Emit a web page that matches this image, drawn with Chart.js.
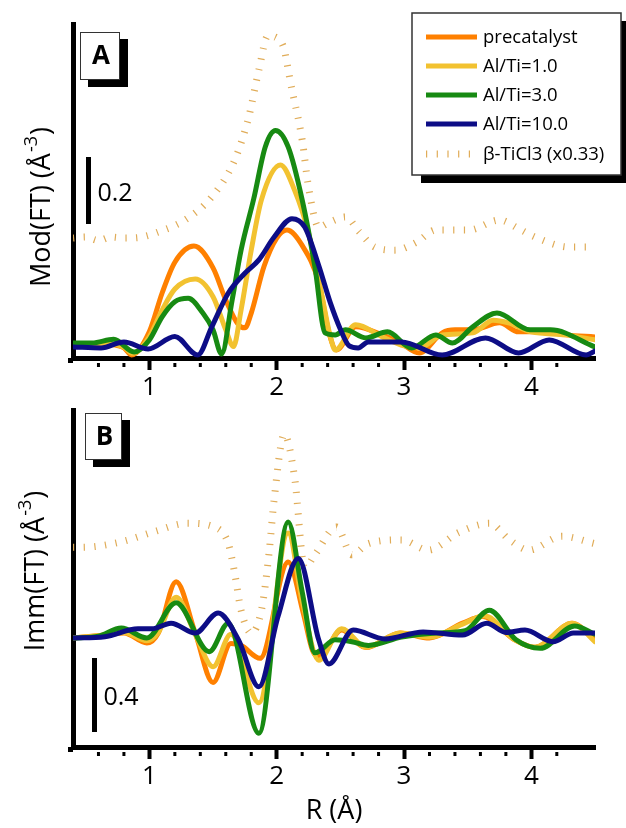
<!DOCTYPE html>
<html>
<head>
<meta charset="utf-8">
<script src="https://cdn.jsdelivr.net/npm/chart.js@4.4.0/dist/chart.umd.min.js"></script>
<style>
  html, body { margin: 0; padding: 0; background: #fff; }
  #wrap { position: relative; width: 626px; height: 828px; }
  canvas { position: absolute; left: 0; }
  #cA { top: 0; }
  #cB { top: 400px; }
</style>
</head>
<body>
<div id="wrap">
  <canvas id="cA" width="626" height="400"></canvas>
  <canvas id="cB" width="626" height="428"></canvas>
</div>
<script>
// series names / colours
const seriesNames = ["precatalyst", "Al/Ti=1.0", "Al/Ti=3.0", "Al/Ti=10.0", "β-TiCl3 (x0.33)"];
const seriesColors = ["#ff8000", "#f2c230", "#178a12", "#0d0d86", "#e0ac58"];

// panel A : Mod(FT), [R, value]
const modPre = [[0.40,0.036],[0.55,0.036],[0.70,0.034],[0.80,0.024],[0.86,0.003],[1.00,0.073],[1.10,0.188],[1.20,0.28],[1.35,0.328],[1.50,0.263],[1.60,0.167],[1.70,0.093],[1.75,0.084],[1.80,0.128],[1.90,0.267],[2.00,0.352],[2.08,0.376],[2.20,0.33],[2.33,0.22],[2.41,0.07],[2.47,0.018],[2.62,0.087],[2.83,0.063],[2.96,0.042],[3.12,0.009],[3.30,0.069],[3.40,0.078],[3.54,0.078],[3.75,0.099],[3.90,0.072],[4.11,0.072],[4.27,0.063],[4.50,0.057]];
const modAl1 = [[0.40,0.036],[0.55,0.036],[0.70,0.036],[0.80,0.026],[0.87,0.008],[1.00,0.058],[1.10,0.137],[1.20,0.2],[1.36,0.23],[1.50,0.177],[1.60,0.078],[1.66,0.028],[1.72,0.137],[1.80,0.316],[1.88,0.466],[2.03,0.57],[2.14,0.495],[2.25,0.367],[2.35,0.19],[2.42,0.06],[2.46,0.018],[2.62,0.093],[2.83,0.057],[3.00,0.03],[3.12,0.024],[3.30,0.063],[3.54,0.069],[3.70,0.107],[3.82,0.099],[4.00,0.072],[4.27,0.063],[4.50,0.048]];
const modAl3 = [[0.40,0.039],[0.55,0.039],[0.72,0.05],[0.88,0.012],[1.00,0.048],[1.10,0.117],[1.20,0.162],[1.305,0.172],[1.42,0.128],[1.50,0.078],[1.567,0.006],[1.65,0.167],[1.72,0.316],[1.82,0.47],[1.91,0.624],[1.99,0.673],[2.09,0.624],[2.20,0.466],[2.30,0.266],[2.38,0.069],[2.46,0.063],[2.54,0.078],[2.70,0.054],[2.87,0.072],[3.06,0.024],[3.25,0.063],[3.38,0.039],[3.54,0.087],[3.73,0.128],[3.99,0.078],[4.15,0.078],[4.50,0.027]];
const modAl10 = [[0.40,0.027],[0.62,0.024],[0.80,0.042],[0.99,0.021],[1.20,0.058],[1.38,0.003],[1.49,0.087],[1.62,0.188],[1.75,0.247],[1.86,0.287],[1.98,0.355],[2.12,0.41],[2.22,0.385],[2.33,0.27],[2.42,0.16],[2.50,0.08],[2.57,0.03],[2.64,0.024],[2.72,0.042],[2.98,0.042],[3.30,0.003],[3.64,0.054],[3.90,0.009],[4.14,0.048],[4.43,0.003],[4.50,0.015]];
const modTi = [[0.40,0.352],[0.50,0.355],[0.60,0.345],[0.70,0.355],[0.80,0.352],[0.94,0.355],[1.07,0.37],[1.28,0.406],[1.49,0.475],[1.67,0.585],[1.78,0.713],[1.86,0.854],[1.93,0.955],[2.04,0.934],[2.12,0.794],[2.20,0.645],[2.25,0.504],[2.33,0.385],[2.42,0.40],[2.54,0.415],[2.65,0.37],[2.77,0.325],[2.93,0.316],[3.10,0.34],[3.25,0.376],[3.51,0.376],[3.75,0.406],[3.90,0.38],[4.03,0.355],[4.30,0.325],[4.50,0.325]];

// panel B : Imm(FT), [R, value]
const immPre = [[0.40,0],[0.65,0.016],[0.80,0.027],[0.98,-0.027],[1.07,0.027],[1.21,0.304],[1.36,0.027],[1.50,-0.24],[1.64,-0.03],[1.72,-0.04],[1.87,-0.11],[2.09,0.41],[2.21,0.13],[2.28,-0.065],[2.33,-0.1],[2.51,0.043],[2.70,-0.052],[2.97,0.027],[3.20,0.0],[3.46,0.08],[3.62,0.116],[3.87,-0.01],[4.03,-0.05],[4.32,0.08],[4.50,-0.01]];
const immAl1 = [[0.40,0],[0.65,0.016],[0.80,0.03],[0.98,-0.015],[1.07,0.03],[1.21,0.22],[1.36,0.02],[1.50,-0.155],[1.64,0.02],[1.86,-0.35],[2.09,0.567],[2.20,0.2],[2.33,-0.12],[2.51,0.05],[2.70,-0.05],[2.97,0.027],[3.20,0.005],[3.46,0.075],[3.63,0.12],[3.87,-0.01],[4.03,-0.05],[4.32,0.08],[4.50,-0.02]];
const immAl3 = [[0.40,0],[0.60,0.01],[0.78,0.054],[0.98,0.0],[1.21,0.19],[1.47,-0.074],[1.62,0.08],[1.86,-0.515],[2.09,0.627],[2.20,0.25],[2.30,-0.08],[2.46,-0.01],[2.59,-0.02],[2.72,-0.04],[2.98,0.005],[3.25,0.027],[3.48,0.04],[3.67,0.15],[3.88,-0.01],[4.07,-0.056],[4.34,0.065],[4.50,0.02]];
const immAl10 = [[0.40,0],[0.65,0.007],[0.91,0.05],[1.02,0.05],[1.17,0.08],[1.36,0.027],[1.54,0.135],[1.70,-0.01],[1.86,-0.264],[2.01,0.116],[2.17,0.43],[2.33,-0.01],[2.41,-0.14],[2.60,0.043],[2.85,-0.005],[3.15,0.033],[3.46,0.016],[3.65,0.08],[3.80,0.03],[3.95,0.043],[4.17,-0.02],[4.33,0.027],[4.50,0.027]];
const immTi = [[0.40,0.49],[0.47,0.49],[0.78,0.52],[1.04,0.575],[1.30,0.62],[1.51,0.60],[1.62,0.51],[1.67,0.35],[1.72,0.15],[1.80,0.027],[1.88,0.15],[1.94,0.46],[1.98,0.75],[2.06,1.10],[2.14,0.87],[2.22,0.38],[2.30,0.45],[2.47,0.60],[2.59,0.45],[2.72,0.51],[2.98,0.53],[3.19,0.475],[3.43,0.57],[3.67,0.62],[3.83,0.53],[3.98,0.475],[4.24,0.55],[4.50,0.51]];

// axis ranges and scale bars (data units)
const xRange = [0.4, 4.5];
const yRangeA = [-0.006, 0.991];
const yRangeB = [-0.589, 1.232];
const barA = { from: 0.394, size: 0.2 };
const barB = { from: -0.508, size: 0.4 };

const FONT = "'Open Sans', sans-serif";
const isInt = v => Math.abs(v - Math.round(v)) < 1e-6;

function makeDatasets(series) {
    return series.map((pts, i) => ({
        label: seriesNames[i],
        data: pts.map(p => ({ x: p[0], y: p[1] })),
        borderColor: seriesColors[i],
        borderWidth: i === 4 ? 7 : 5,
        borderDash: i === 4 ? [1.2, 9.5] : [],
        borderCapStyle: i === 4 ? "butt" : "round",
        borderJoinStyle: "round",
        pointRadius: 0,
        cubicInterpolationMode: "monotone",
        order: [4, 3, 2, 1, 5][i],
        fill: false
    }));
}

// extra drawing: corner, minor ticks, scale bar, y title, panel label, legend
const decor = {
    id: "decor",
    afterDraw(chart, args, o) {
        const { ctx, chartArea: ca, scales: { x, y } } = chart;
        ctx.save();
        ctx.fillStyle = "#000";
        ctx.fillRect(ca.left - 5, ca.bottom, 5, 5);

        // minor ticks
        ctx.strokeStyle = "#000";
        ctx.lineWidth = 3;
        x.ticks.forEach(t => {
            const v = t.value;
            if (isInt(v) || v < 0.5 || v > 4.45) return;
            const px = x.getPixelForValue(v);
            ctx.beginPath();
            ctx.moveTo(px, ca.bottom + 5);
            ctx.lineTo(px, ca.bottom + 9);
            ctx.stroke();
        });

        // scale bar
        const y1 = y.getPixelForValue(o.bar.from);
        const y2 = y.getPixelForValue(o.bar.from + o.bar.size);
        ctx.lineWidth = 5;
        ctx.beginPath();
        ctx.moveTo(o.barX, y1);
        ctx.lineTo(o.barX, y2);
        ctx.stroke();
        ctx.font = `25px ${FONT}`;
        ctx.textAlign = "left";
        ctx.textBaseline = "middle";
        ctx.fillText(String(o.bar.size), o.barX + 9, (y1 + y2) / 2 + 3);

        // y title with superscript
        ctx.save();
        ctx.translate(o.titleX, o.titleY);
        ctx.rotate(-Math.PI / 2);
        ctx.textBaseline = "alphabetic";
        const main = o.title + " (Å";
        ctx.font = `27px ${FONT}`;
        const w1 = ctx.measureText(main).width;
        ctx.font = `18px ${FONT}`;
        const w2 = ctx.measureText("-3").width;
        ctx.font = `27px ${FONT}`;
        const w3 = ctx.measureText(")").width;
        let sx = -(w1 + w2 + w3 + 2) / 2;
        ctx.fillText(main, sx, 0);
        ctx.font = `18px ${FONT}`;
        ctx.fillText("-3", sx + w1 + 1, -13);
        ctx.font = `27px ${FONT}`;
        ctx.fillText(")", sx + w1 + w2 + 2, 0);
        ctx.restore();

        // panel label box
        const b = o.box;
        ctx.fillStyle = "#000";
        ctx.fillRect(b.x + 8, b.y + 7, b.w, b.h);
        ctx.fillStyle = "#fff";
        ctx.fillRect(b.x, b.y, b.w, b.h);
        ctx.strokeStyle = "#333";
        ctx.lineWidth = 1;
        ctx.strokeRect(b.x + 0.5, b.y + 0.5, b.w - 1, b.h - 1);
        ctx.fillStyle = "#000";
        ctx.font = `bold 26px ${FONT}`;
        ctx.textAlign = "center";
        ctx.textBaseline = "middle";
        ctx.fillText(o.letter, b.x + b.w / 2 + 1, b.y + b.h / 2 + 1);

        // legend (panel A only)
        if (o.legend) {
            const L = o.legend;
            ctx.fillStyle = "#000";
            ctx.fillRect(L.x + 9, L.y + 8, L.w, L.h);
            ctx.fillStyle = "#fff";
            ctx.fillRect(L.x, L.y, L.w, L.h);
            ctx.strokeStyle = "#333";
            ctx.lineWidth = 1.5;
            ctx.strokeRect(L.x, L.y, L.w, L.h);
            ctx.font = `18.5px ${FONT}`;
            ctx.textAlign = "left";
            ctx.textBaseline = "middle";
            chart.data.datasets.forEach((ds, i) => {
                const ry = L.rowY[i];
                ctx.strokeStyle = ds.borderColor;
                ctx.lineWidth = ds.borderWidth;
                ctx.setLineDash(ds.borderDash);
                ctx.lineCap = "butt";
                ctx.beginPath();
                ctx.moveTo(L.x + 14, ry);
                ctx.lineTo(L.x + 65, ry);
                ctx.stroke();
                ctx.setLineDash([]);
                ctx.fillStyle = "#000";
                ctx.fillText(ds.label, L.x + 71, ry + 1);
            });
        }
        ctx.restore();
    }
};

function makeChart(id, series, yRange, xHeight, padTop, showTitle, deco) {
    return new Chart(document.getElementById(id), {
        type: "line",
        data: { datasets: makeDatasets(series) },
        options: {
            responsive: false,
            animation: false,
            devicePixelRatio: 1,
            events: [],
            layout: { padding: { top: padTop, left: 73, right: 31, bottom: 0 } },
            plugins: { legend: { display: false }, tooltip: { enabled: false }, decor: deco },
            scales: {
                x: {
                    type: "linear",
                    min: xRange[0],
                    max: xRange[1],
                    border: { display: true, color: "#000", width: 5 },
                    grid: {
                        display: true,
                        drawOnChartArea: false,
                        drawTicks: true,
                        tickLength: 12,
                        tickWidth: 4,
                        tickColor: c => (c.tick && isInt(c.tick.value)) ? "#000" : "rgba(0,0,0,0)"
                    },
                    ticks: {
                        stepSize: 0.2,
                        autoSkip: false,
                        maxRotation: 0,
                        padding: 2,
                        color: "#000",
                        font: { family: FONT, size: 26 },
                        callback: v => isInt(v) ? String(Math.round(v)) : ""
                    },
                    title: {
                        display: showTitle,
                        text: "R (Å)",
                        color: "#000",
                        font: { family: FONT, size: 27 },
                        padding: 0
                    },
                    afterFit: s => { s.height = xHeight; }
                },
                y: {
                    type: "linear",
                    min: yRange[0],
                    max: yRange[1],
                    border: { display: true, color: "#000", width: 5 },
                    grid: { display: false },
                    ticks: { display: false },
                    afterFit: s => { s.width = 0; }
                }
            }
        },
        plugins: [decor]
    });
}

makeChart("cA", [modPre, modAl1, modAl3, modAl10, modTi], yRangeA, 42, 24, false, {
    bar: barA, barX: 88.5,
    title: "Mod(FT)", titleX: 50, titleY: 207,
    letter: "A", box: { x: 80, y: 32, w: 40, h: 48 },
    legend: { x: 412, y: 13, w: 209, h: 162, rowY: [37, 66, 95, 124, 154] }
});

makeChart("cB", [immPre, immAl1, immAl3, immAl10, immTi], yRangeB, 81, 10, true, {
    bar: barB, barX: 94.5,
    title: "Imm(FT)", titleX: 44, titleY: 171,
    letter: "B", box: { x: 85, y: 13, w: 37, h: 47 }
});
</script>
</body>
</html>
